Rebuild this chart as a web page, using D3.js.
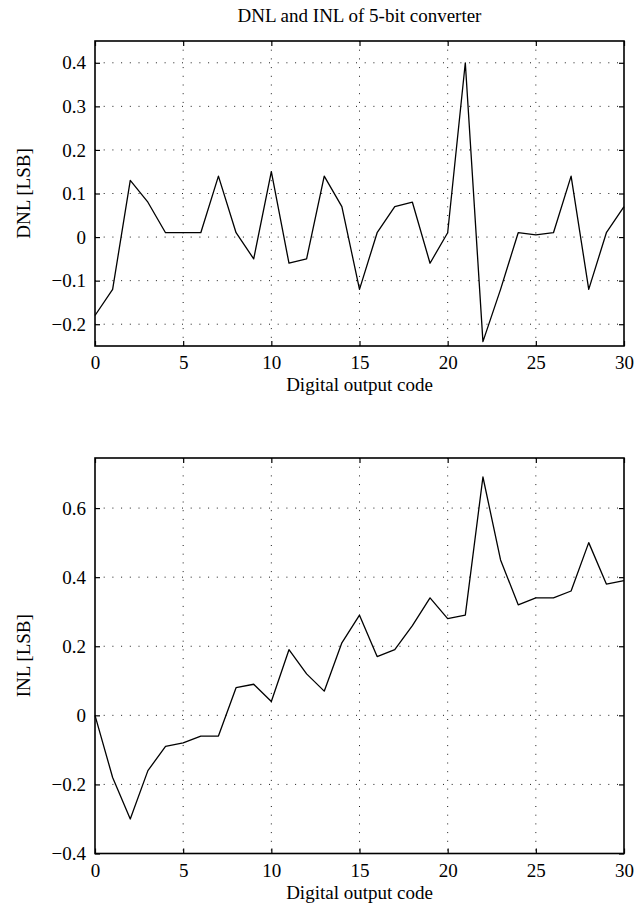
<!DOCTYPE html>
<html>
<head>
<meta charset="utf-8">
<script src="https://cdn.jsdelivr.net/npm/d3@7"></script>
<style>
  body { margin: 0; background: #fff; }
  text { font-family: "Liberation Serif", "Times New Roman", serif; fill: #000; }
</style>
</head>
<body>
<div id="chart"></div>
<script>
const codes = [0, 1, 2, 3, 4, 5, 6, 7, 8, 9, 10, 11, 12, 13, 14, 15,
  16, 17, 18, 19, 20, 21, 22, 23, 24, 25, 26, 27, 28, 29, 30];
const dnl = [-0.18, -0.12, 0.13, 0.08, 0.01, 0.01, 0.01, 0.14, 0.01, -0.05, 0.15,
  -0.06, -0.05, 0.14, 0.07, -0.12, 0.01, 0.07, 0.08, -0.06, 0.01,
  0.40, -0.24, -0.12, 0.01, 0.005, 0.01, 0.14, -0.12, 0.01, 0.07];
const inl = [0, -0.18, -0.30, -0.16, -0.09, -0.08, -0.06, -0.06, 0.08, 0.09, 0.04,
  0.19, 0.12, 0.07, 0.21, 0.29, 0.17, 0.19, 0.26, 0.34, 0.28,
  0.29, 0.69, 0.45, 0.32, 0.34, 0.34, 0.36, 0.50, 0.38, 0.39];
const codeTicks = [0, 5, 10, 15, 20, 25, 30];
const dnlTicks = [-0.2, -0.1, 0, 0.1, 0.2, 0.3, 0.4];
const inlTicks = [-0.4, -0.2, 0, 0.2, 0.4, 0.6];

const width = 634;
const height = 917;
const left = 95, right = 624;
const fontSize = "19px";

const svg = d3.select("#chart")
  .append("svg")
  .attr("width", width)
  .attr("height", height);

svg.append("text")
  .attr("x", (left + right) / 2)
  .attr("y", 22)
  .attr("text-anchor", "middle")
  .style("font-size", fontSize)
  .text("DNL and INL of 5-bit converter");

const fmt = d => d === 0 ? "0" : d3.format(".1f")(d);

function panel(values, yDomain, yTicks, top, bottom, yLabel) {
  const x = d3.scaleLinear().domain([0, 30]).range([left, right]);
  const y = d3.scaleLinear().domain(yDomain).range([bottom, top]);
  const g = svg.append("g");

  // dotted grid
  g.selectAll(".gx")
    .data(codeTicks.filter(d => d > 0 && d < 30))
    .enter()
    .append("line")
    .attr("x1", d => x(d)).attr("x2", d => x(d))
    .attr("y1", top).attr("y2", bottom)
    .attr("stroke", "#000")
    .attr("stroke-width", 0.9)
    .attr("stroke-dasharray", "1,7.7");
  g.selectAll(".gy")
    .data(yTicks)
    .enter()
    .append("line")
    .attr("x1", left).attr("x2", right)
    .attr("y1", d => y(d)).attr("y2", d => y(d))
    .attr("stroke", "#000")
    .attr("stroke-width", 0.9)
    .attr("stroke-dasharray", "1,7.7");

  // axes, ticks pointing inward
  const ax = [
    g.append("g").attr("transform", `translate(0,${bottom})`)
      .call(d3.axisBottom(x).tickValues(codeTicks).tickSize(-5).tickPadding(10).tickFormat(d3.format("d"))),
    g.append("g").attr("transform", `translate(0,${top})`)
      .call(d3.axisTop(x).tickValues(codeTicks).tickSize(-5).tickFormat("")),
    g.append("g").attr("transform", `translate(${left},0)`)
      .call(d3.axisLeft(y).tickValues(yTicks).tickSize(-5).tickPadding(9).tickFormat(fmt)),
    g.append("g").attr("transform", `translate(${right},0)`)
      .call(d3.axisRight(y).tickValues(yTicks).tickSize(-5).tickFormat(""))
  ];
  ax.forEach(a => {
    a.select(".domain").remove();
    a.selectAll("line").attr("stroke", "#000").attr("stroke-width", 1.2);
    a.selectAll("text").style("font-size", fontSize).attr("font-family", null);
  });

  g.append("path")
    .datum(codes)
    .attr("fill", "none")
    .attr("stroke", "#000")
    .attr("stroke-width", 1.3)
    .attr("stroke-linejoin", "round")
    .attr("d", d3.line().x(d => x(d)).y((d, i) => y(values[i])));

  g.append("rect")
    .attr("x", left).attr("y", top)
    .attr("width", right - left).attr("height", bottom - top)
    .attr("fill", "none")
    .attr("stroke", "#000")
    .attr("stroke-width", 1.6);

  g.append("text")
    .attr("x", (left + right) / 2)
    .attr("y", bottom + 45)
    .attr("text-anchor", "middle")
    .style("font-size", fontSize)
    .text("Digital output code");

  g.append("text")
    .attr("transform", "rotate(-90)")
    .attr("x", -(top + bottom) / 2)
    .attr("y", 30)
    .attr("text-anchor", "middle")
    .style("font-size", fontSize)
    .text(yLabel);
}

panel(dnl, [-0.25, 0.45], dnlTicks, 41, 346, "DNL [LSB]");
panel(inl, [-0.4, 0.745], inlTicks, 458, 853.5, "INL [LSB]");
</script>
</body>
</html>
